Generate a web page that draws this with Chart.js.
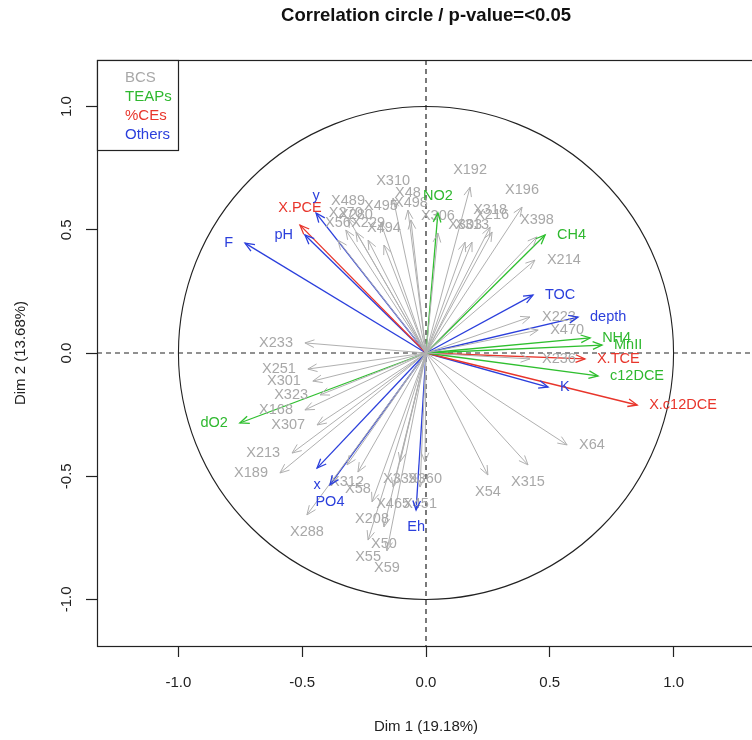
<!DOCTYPE html>
<html>
<head>
<meta charset="utf-8">
<script src="https://cdn.jsdelivr.net/npm/chart.js@4.4.0/dist/chart.umd.min.js"></script>
<style>
  html, body { margin: 0; padding: 0; background: #fff; overflow: hidden; }
  #wrap { width: 752px; height: 740px; overflow: hidden; }
  canvas { display: block; }
</style>
</head>
<body>
<div id="wrap"><canvas id="circle" width="760" height="740"></canvas></div>
<script>
// ============================================================
// DATA — variable coordinates on Dim 1 / Dim 2
// ============================================================
const bcsNames = ['X192','X196','X310','X48','X498','X489','X495','X270','X280','X56','X229','X494',
  'X306','X318','X216','X303','X313','X398','X214','X223','X470','X236',
  'X233','X251','X301','X323','X168','X307','X213','X189',
  'X312','X58','X288','X208','X55','X50','X59','X465','X451','X339','X360','X54','X315','X64'];
const bcsX = [0.178, 0.388, -0.133, -0.073, -0.061, -0.315, -0.182, -0.324, -0.283, -0.356, -0.234, -0.170,
  0.048, 0.259, 0.267, 0.158, 0.186, 0.448, 0.440, 0.420, 0.453, 0.420,
  -0.489, -0.477, -0.457, -0.428, -0.489, -0.440, -0.541, -0.590,
  -0.319, -0.275, -0.481, -0.218, -0.234, -0.170, -0.158, -0.133, -0.024, -0.105, -0.004, 0.250, 0.412, 0.570];
const bcsY = [0.673, 0.592, 0.629, 0.580, 0.540, 0.548, 0.527, 0.499, 0.491, 0.458, 0.458, 0.438,
  0.487, 0.511, 0.491, 0.450, 0.450, 0.471, 0.377, 0.146, 0.093, -0.024,
  0.041, -0.065, -0.114, -0.170, -0.231, -0.292, -0.406, -0.487,
  -0.454, -0.483, -0.657, -0.604, -0.759, -0.706, -0.803, -0.544, -0.544, -0.442, -0.442, -0.495, -0.454, -0.373];

const teapNames = ['NO2', 'CH4', 'NH4', 'MnII', 'c12DCE', 'dO2'];
const teapX = [0.048, 0.481, 0.663, 0.711, 0.695, -0.752];
const teapY = [0.568, 0.479, 0.061, 0.032, -0.093, -0.284];

const ceNames = ['X.PCE', 'X.TCE', 'X.c12DCE'];
const ceX = [-0.509, 0.642, 0.853];
const ceY = [0.519, -0.024, -0.211];

const otherNames = ['y', 'pH', 'F', 'TOC', 'depth', 'K', 'x', 'PO4', 'Eh'];
const otherX = [-0.444, -0.489, -0.731, 0.432, 0.614, 0.493, -0.440, -0.388, -0.040];
const otherY = [0.568, 0.479, 0.446, 0.235, 0.146, -0.138, -0.467, -0.535, -0.637];

const xTicks = [-1.0, -0.5, 0.0, 0.5, 1.0];
const yTicks = [-1.0, -0.5, 0.0, 0.5, 1.0];
const xRange = [-1.329, 1.329];
const yRange = [-1.189, 1.189];

// ============================================================
// STYLE
// ============================================================
const FONT = "'Liberation Sans', Arial, Helvetica, sans-serif";
const INK = '#222';
const groups = [
  { legend: 'BCS',    color: '#b0b0b0', text: '#a8a8a8', width: 1,   names: bcsNames,   xs: bcsX,   ys: bcsY },
  { legend: 'TEAPs',  color: '#2fbf2f', text: '#2fb82f', width: 1.3, names: teapNames,  xs: teapX,  ys: teapY },
  { legend: '%CEs',   color: '#e8352b', text: '#e8352b', width: 1.3, names: ceNames,    xs: ceX,    ys: ceY },
  { legend: 'Others', color: '#2b3fdc', text: '#2b3fdc', width: 1.3, names: otherNames, xs: otherX, ys: otherY }
];

const datasets = [];
groups.forEach(g => {
  g.names.forEach((n, i) => {
    datasets.push({
      label: n,
      data: [{ x: 0, y: 0 }, { x: g.xs[i], y: g.ys[i] }],
      showLine: true,
      borderColor: g.color,
      borderWidth: g.width,
      pointRadius: 0,
      _text: g.text
    });
  });
});

// white background + frame, dashed axes, unit circle
const framePlugin = {
  id: 'frame',
  beforeDraw(chart) {
    const { ctx, width, height } = chart;
    ctx.save();
    ctx.fillStyle = '#fff';
    ctx.fillRect(0, 0, width, height);
    ctx.restore();
  },
  beforeDatasetsDraw(chart) {
    const { ctx, chartArea: a, scales: { x, y } } = chart;
    const x0 = x.getPixelForValue(0), y0 = y.getPixelForValue(0);
    ctx.save();
    ctx.strokeStyle = INK;
    ctx.lineWidth = 1.2;
    ctx.setLineDash([5, 4]);
    ctx.beginPath();
    ctx.moveTo(a.left, y0); ctx.lineTo(a.right, y0);
    ctx.moveTo(x0, a.top); ctx.lineTo(x0, a.bottom);
    ctx.stroke();
    ctx.setLineDash([]);
    // unit circle
    const rx = x.getPixelForValue(1) - x0;
    const ry = y0 - y.getPixelForValue(1);
    ctx.lineWidth = 1.1;
    ctx.beginPath();
    ctx.ellipse(x0, y0, rx, ry, 0, 0, Math.PI * 2);
    ctx.stroke();
    // box
    ctx.lineWidth = 1.2;
    ctx.strokeRect(a.left + 0.5, a.top + 0.5, a.right - a.left, a.bottom - a.top);
    ctx.restore();
  }
};

// arrowheads and variable labels
const arrowPlugin = {
  id: 'arrows',
  afterDatasetsDraw(chart) {
    const { ctx } = chart;
    const L = 10, A = Math.PI / 8;
    ctx.save();
    ctx.font = '14.5px ' + FONT;
    chart.data.datasets.forEach((ds, di) => {
      const meta = chart.getDatasetMeta(di);
      const p0 = meta.data[0], p1 = meta.data[1];
      const ang = Math.atan2(p1.y - p0.y, p1.x - p0.x);
      ctx.strokeStyle = ds.borderColor;
      ctx.lineWidth = ds.borderWidth;
      ctx.beginPath();
      ctx.moveTo(p1.x - L * Math.cos(ang - A), p1.y - L * Math.sin(ang - A));
      ctx.lineTo(p1.x, p1.y);
      ctx.lineTo(p1.x - L * Math.cos(ang + A), p1.y - L * Math.sin(ang + A));
      ctx.stroke();

      const dx = p1.x - p0.x, dy = p0.y - p1.y;
      let tx = p1.x, ty = p1.y;
      ctx.textBaseline = 'middle';
      if (Math.abs(dx) >= Math.abs(dy)) {
        ctx.textAlign = dx > 0 ? 'left' : 'right';
        tx += dx > 0 ? 12 : -12;
      } else {
        ctx.textAlign = 'center';
        ty += dy > 0 ? -17 : 17;
      }
      ctx.fillStyle = ds._text;
      ctx.fillText(ds.label, tx, ty);
    });
    ctx.restore();
  }
};

// title + legend box
const annotPlugin = {
  id: 'annot',
  afterDraw(chart) {
    const { ctx, chartArea: a, scales: { x } } = chart;
    ctx.save();
    ctx.fillStyle = '#111';
    ctx.font = 'bold 18.5px ' + FONT;
    ctx.textAlign = 'center';
    ctx.textBaseline = 'middle';
    ctx.fillText('Correlation circle / p-value=<0.05', x.getPixelForValue(0), 16);

    ctx.strokeStyle = INK;
    ctx.lineWidth = 1.2;
    ctx.fillStyle = '#fff';
    ctx.fillRect(a.left + 0.5, a.top + 0.5, 81, 90);
    ctx.strokeRect(a.left + 0.5, a.top + 0.5, 81, 90);
    ctx.font = '15px ' + FONT;
    ctx.textAlign = 'left';
    groups.forEach((g, i) => {
      ctx.fillStyle = g.text;
      ctx.fillText(g.legend, a.left + 28, a.top + 18 + i * 19);
    });
    ctx.restore();
  }
};

new Chart(document.getElementById('circle'), {
  type: 'scatter',
  data: { datasets },
  plugins: [framePlugin, arrowPlugin, annotPlugin],
  options: {
    responsive: false,
    animation: false,
    devicePixelRatio: 1,
    layout: { padding: { top: 60, left: 0, right: 5, bottom: 0 } },
    plugins: { legend: { display: false }, tooltip: { enabled: false } },
    scales: {
      x: {
        type: 'linear',
        min: xRange[0], max: xRange[1],
        afterBuildTicks: s => { s.ticks = xTicks.map(v => ({ value: v })); },
        afterFit: s => { s.height = 94; },
        grid: { drawOnChartArea: false, tickLength: 11, tickColor: INK, tickWidth: 1.2 },
        border: { display: false },
        ticks: { color: INK, padding: 17, font: { family: FONT, size: 15 }, callback: v => v.toFixed(1) },
        title: { display: true, text: 'Dim 1 (19.18%)', color: INK, font: { family: FONT, size: 15 }, padding: { top: 0, bottom: 4 } }
      },
      y: {
        type: 'linear',
        min: yRange[0], max: yRange[1],
        afterBuildTicks: s => { s.ticks = yTicks.map(v => ({ value: v })); },
        afterFit: s => { s.width = 97; },
        grid: { drawOnChartArea: false, tickLength: 11, tickColor: INK, tickWidth: 1.2 },
        border: { display: false },
        ticks: { color: INK, padding: 6, minRotation: 90, maxRotation: 90, crossAlign: 'center',
                 font: { family: FONT, size: 15 }, callback: v => v.toFixed(1) },
        title: { display: true, text: 'Dim 2 (13.68%)', color: INK, font: { family: FONT, size: 15 }, padding: { top: 12, bottom: 0 } }
      }
    }
  }
});
</script>
</body>
</html>
